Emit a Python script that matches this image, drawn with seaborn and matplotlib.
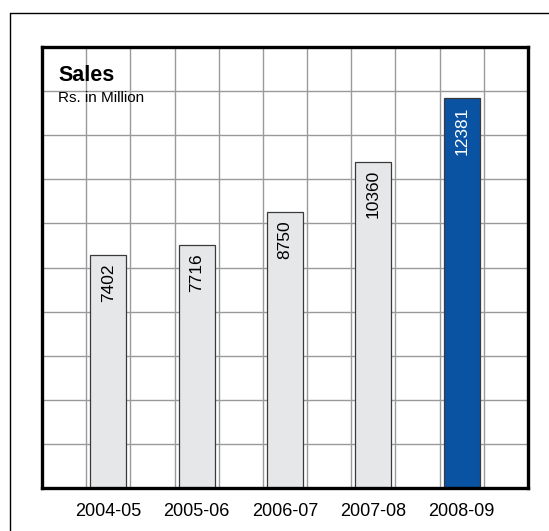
import numpy as np
import pandas as pd
import matplotlib.pyplot as plt
from matplotlib.lines import Line2D
import seaborn as sns

# Data
years = ["2004-05", "2005-06", "2006-07", "2007-08", "2008-09"]
sales = [7402, 7716, 8750, 10360, 12381]
bar_colors = ["#e6e7e8", "#e6e7e8", "#e6e7e8", "#e6e7e8", "#0a53a3"]
label_colors = ["black", "black", "black", "black", "white"]

df = pd.DataFrame({"year": years, "sales": sales})

sns.set_style("white")
plt.rcParams["font.family"] = ["Liberation Sans", "DejaVu Sans"]
plt.rcParams["text.color"] = "black"
plt.rcParams["xtick.color"] = "black"

W, H = 549, 531
fig = plt.figure(figsize=(W / 100, H / 100), dpi=100)
ax = fig.add_axes([42 / W, (H - 488) / H, 486 / W, 441 / H])

sns.barplot(data=df, x="year", y="sales", hue="year", palette=bar_colors,
            saturation=1, width=0.41, edgecolor="#3a3a3a", linewidth=0.9,
            legend=False, dodge=False, ax=ax, zorder=3)

ax.set_xlim(-0.75, 4.75)
ax.set_ylim(0, 14000)

# grid: cells of half a category wide, 1400 tall
ax.set_xticks(np.arange(-0.75, 4.76, 0.5), minor=True)
ax.set_yticks(np.arange(0, 14001, 1400))
ax.set_yticklabels([])
ax.grid(True, which="minor", axis="x", color="#9a9a9a", lw=1.0, zorder=0)
ax.grid(True, which="major", axis="y", color="#9a9a9a", lw=1.0, zorder=0)
ax.grid(False, which="major", axis="x")
ax.set_axisbelow(True)

ax.set_xticks(range(len(years)))
ax.set_xticklabels(years, fontsize=13, color="black")
ax.tick_params(axis="x", which="both", length=0, pad=10.5)
ax.tick_params(axis="y", length=0)
ax.set_xlabel("")
ax.set_ylabel("")

for sp in ax.spines.values():
    sp.set_visible(True)
    sp.set_color("black")
    sp.set_linewidth(2.4)
    sp.set_zorder(5)

# value labels inside the bars
for i, (v, c) in enumerate(zip(sales, label_colors)):
    ax.annotate(str(v), (i, v), xytext=(0, -6), textcoords="offset points",
                rotation=90, ha="center", va="top", fontsize=12.5, color=c,
                zorder=6)

fig.text(58 / W, 1 - 65 / H, "Sales", fontsize=15.5, fontweight="bold",
         va="top", ha="left", color="black")
fig.text(58 / W, 1 - 91 / H, "Rs. in Million", fontsize=11,
         va="top", ha="left", color="black")

# outer frame (runs off the right and bottom edges)
fig.add_artist(Line2D([9.5 / W, 1.0], [1 - 13 / H, 1 - 13 / H],
                      transform=fig.transFigure, color="black", lw=1.0))
fig.add_artist(Line2D([9.5 / W, 9.5 / W], [1 - 13 / H, 0.0],
                      transform=fig.transFigure, color="black", lw=1.0))

fig.savefig("out.png", dpi=100)
